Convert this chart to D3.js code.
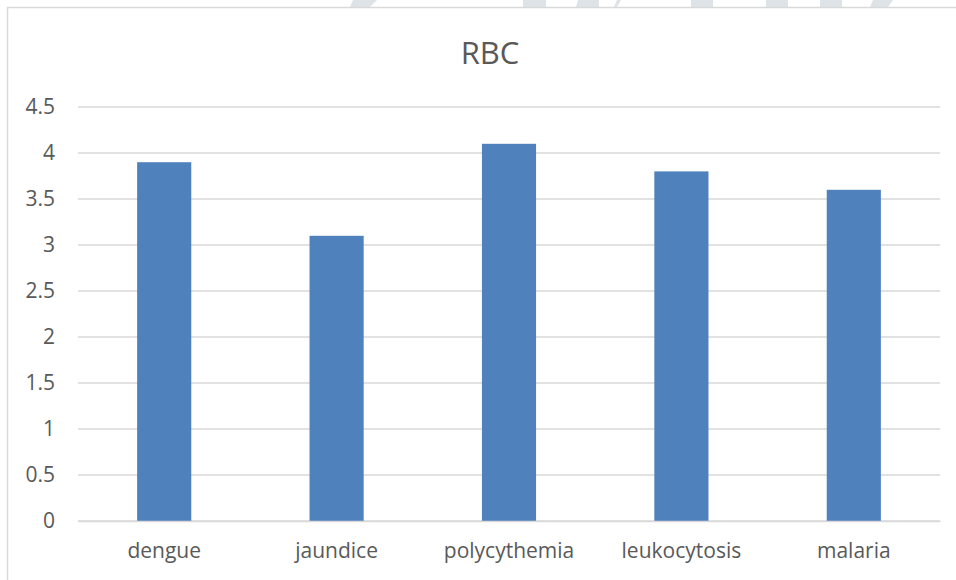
<!DOCTYPE html>
<html>
<head>
<meta charset="utf-8">
<script src="https://cdn.jsdelivr.net/npm/d3@7"></script>
<style>
  html, body { margin: 0; padding: 0; background: #ffffff; }
  svg { display: block; }
  text { font-family: "Open Sans", "Noto Sans", sans-serif; fill: #595959; }
</style>
</head>
<body>
<svg id="chart" width="956" height="580"></svg>
<script>
// RBC count by condition
const categories = ["dengue", "jaundice", "polycythemia", "leukocytosis", "malaria"];
const rbcValues = [3.9, 3.1, 4.1, 3.8, 3.6];
const yTicks = [0, 0.5, 1, 1.5, 2, 2.5, 3, 3.5, 4, 4.5];
const chartTitle = "RBC";

const width = 956, height = 580;
const plot = { left: 78, right: 940, top: 107, bottom: 521 };

const svg = d3.select("#chart");

// light decorative strip above the chart frame
const decoShapes = [
  [[353, 0], [377, 0], [370, 7], [350, 7]],
  [[523, 0], [546, 0], [546, 7], [523, 7]],
  [[578, 0], [599, 0], [599, 7], [576, 7]],
  [[617, 0], [621, 0], [617, 7], [614, 7]],
  [[691, 0], [713, 0], [713, 7], [691, 7]],
  [[766, 0], [788, 0], [788, 7], [766, 7]],
  [[820, 0], [842, 0], [842, 7], [820, 7]],
  [[873, 0], [893, 0], [888, 7], [870, 7]]
];
svg.append("g").selectAll("polygon")
  .data(decoShapes)
  .join("polygon")
  .attr("points", d => d.map(p => p.join(",")).join(" "))
  .attr("fill", "#dde3e6");

// chart frame (top and left edges visible)
svg.append("path")
  .attr("d", `M7.5,${height} L7.5,7.5 L${width},7.5`)
  .attr("fill", "none")
  .attr("stroke", "#d9d9d9")
  .attr("stroke-width", 1.5);

const x = d3.scaleBand()
  .domain(categories)
  .range([plot.left, plot.right])
  .paddingInner(0.686)
  .paddingOuter(0.343);

const y = d3.scaleLinear()
  .domain([0, 4.5])
  .range([plot.bottom, plot.top]);

// gridlines
svg.append("g")
  .selectAll("line")
  .data(yTicks)
  .join("line")
  .attr("x1", plot.left)
  .attr("x2", plot.right)
  .attr("y1", d => y(d))
  .attr("y2", d => y(d))
  .attr("stroke", "#d9d9d9")
  .attr("stroke-width", 1.5);

// y axis labels
const yAxis = d3.axisLeft(y)
  .tickValues(yTicks)
  .tickFormat(d3.format("~g"))
  .tickSize(0)
  .tickPadding(0);
const yG = svg.append("g")
  .attr("transform", `translate(55,0)`)
  .call(yAxis);
yG.select(".domain").remove();
yG.selectAll("text")
  .attr("font-size", 21)
  .attr("fill", "#595959")
  .style("font-family", '"Open Sans", sans-serif');

// bars
svg.append("g")
  .selectAll("rect")
  .data(categories.map((c, i) => ({ c, v: rbcValues[i] })))
  .join("rect")
  .attr("x", d => x(d.c))
  .attr("width", x.bandwidth())
  .attr("y", d => y(d.v))
  .attr("height", d => y(0) - y(d.v))
  .attr("fill", "#4f81bd");

// x axis
const xAxis = d3.axisBottom(x).tickSize(0).tickPadding(0);
const xG = svg.append("g")
  .attr("transform", `translate(0,${plot.bottom})`)
  .call(xAxis);
xG.select(".domain")
  .attr("stroke", "#d9d9d9")
  .attr("stroke-width", 1.5);
xG.selectAll("text")
  .attr("y", 37)
  .attr("dy", 0)
  .attr("font-size", 21)
  .attr("fill", "#595959")
  .style("font-family", '"Open Sans", sans-serif');

// title
svg.append("text")
  .attr("x", 490)
  .attr("y", 64)
  .attr("text-anchor", "middle")
  .attr("font-size", 31)
  .text(chartTitle);
</script>
</body>
</html>
